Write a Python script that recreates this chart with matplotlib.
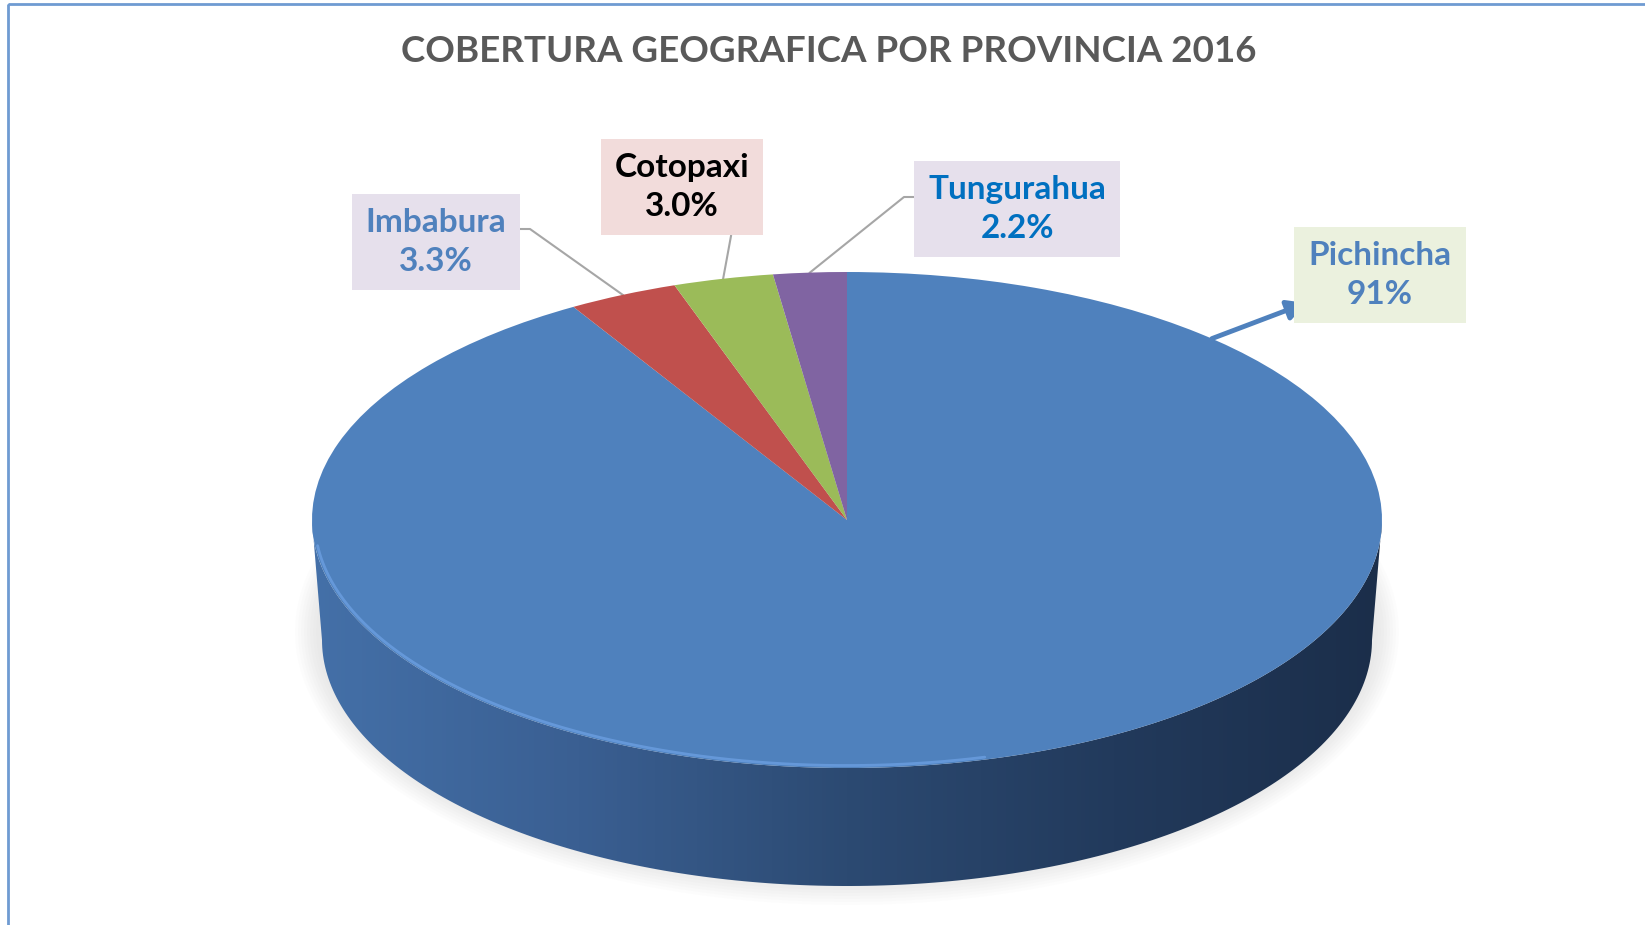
import numpy as np
import matplotlib
matplotlib.use("Agg")
import matplotlib.pyplot as plt
from matplotlib.colors import LinearSegmentedColormap
from matplotlib.patches import Polygon, Rectangle

# data
provincias = ["Pichincha", "Imbabura", "Cotopaxi", "Tungurahua"]
porcentajes = [91.0, 3.3, 3.0, 2.2]
etiquetas = ["91%", "3.3%", "3.0%", "2.2%"]
colores = ["#4f81bd", "#c0504d", "#9bbb59", "#8064a2"]
titulo = "COBERTURA GEOGRAFICA POR PROVINCIA 2016"

plt.rcParams['font.family'] = ['Lato', 'DejaVu Sans']

W, H = 1645, 925
fig = plt.figure(figsize=(W / 100, H / 100), dpi=100)

# background axes in pixel units
bg = fig.add_axes([0, 0, 1, 1])
bg.set_xlim(0, W)
bg.set_ylim(H, 0)
bg.axis("off")

# chart border
bg.add_patch(Rectangle((8, 4), W + 20, H + 20, fill=False, ec="#6f9bd2", lw=2))

# geometry of the "3d" disc (pixels)
cx, cy = 847, 520
a, b = 535, 248
depth = 120
a2, b2 = 525, 246

# soft shadow
for k in range(8):
    t = np.linspace(0, 2 * np.pi, 300)
    s = 6 + k * 3
    bg.fill(cx + (a2 + s) * np.cos(t), cy + depth - 8 + (b2 + s) * np.sin(t),
            color="#9a9a9a", alpha=0.025, lw=0, zorder=1)

# side wall with horizontal gradient
t1 = np.linspace(np.pi, 0, 200)
top_x = cx + a * np.cos(t1)
top_y = cy + b * np.sin(t1)
t2 = np.linspace(0, np.pi, 200)
bot_x = cx + a2 * np.cos(t2)
bot_y = cy + depth + b2 * np.sin(t2)
side = Polygon(np.column_stack([np.r_[top_x, bot_x], np.r_[top_y, bot_y]]),
               closed=True, fc="none", ec="none")
bg.add_patch(side)
cmap = LinearSegmentedColormap.from_list(
    "side", ["#4470a8", "#3a5f92", "#2c4a72", "#223a5c", "#1b2e4a"])
grad = np.linspace(0, 1, 256).reshape(1, -1)
im = bg.imshow(grad, cmap=cmap, aspect="auto",
               extent=(cx - a, cx + a, cy + depth + b2 + 2, cy - 5), zorder=2)
im.set_clip_path(side)
bg.set_xlim(0, W)
bg.set_ylim(H, 0)

# pie top face
ax = fig.add_axes([(cx - a) / W, (H - (cy + b)) / H, 2 * a / W, 2 * b / H])
ax.patch.set_alpha(0)
wedges, _ = ax.pie(porcentajes, colors=colores, startangle=90,
                   counterclock=False, radius=1,
                   wedgeprops=dict(linewidth=0))
ax.set_aspect("auto")
ax.set_xlim(-1, 1)
ax.set_ylim(-1, 1)
ax.axis("off")

# front rim highlight
tr = np.linspace(np.radians(186), np.radians(285), 200)
ax.plot(np.cos(tr) * 0.995, np.sin(tr) * 0.99, color="#6fa3e6", lw=2,
        alpha=0.7, solid_capstyle="round")

bg.text(829, 52, titulo, ha="center", va="center", fontsize=26.5,
        fontweight="bold", color="#595959")

# label boxes (pixel centres) and styles
lab_pos = [(1380, 275), (436, 242), (682, 187), (1017, 209)]
lab_bg = ["#ebf1de", "#e6e0ec", "#f2dcdb", "#e6e0ec"]
lab_fg = ["#4f81bd", "#4f81bd", "#000000", "#0070c0"]
# leader line start points (pixels), None for the arrow
lead_start = [None, [(518, 229), (530, 229)], [(731, 236)],
              [(918, 197), (904, 197)]]

total = sum(porcentajes)
ang = 90.0
mids = []
for v in porcentajes:
    span = v / total * 360
    mids.append(ang - span / 2)
    ang -= span
mids[0] = 47  # arrow anchor on the big slice

to_bg = ax.transData + bg.transData.inverted()

for i, (name, lab) in enumerate(zip(provincias, etiquetas)):
    th = np.radians(mids[i])
    ex, ey = to_bg.transform((np.cos(th), np.sin(th)))
    px, py = lab_pos[i]
    bg.text(px, py, f"{name}\n{lab}", ha="center", va="center",
            fontsize=24, fontweight="bold", color=lab_fg[i],
            linespacing=1.45, zorder=10,
            bbox=dict(boxstyle="square,pad=0.42", fc=lab_bg[i], ec="none"))
    if lead_start[i] is None:
        bg.annotate("", xy=(1306, 303), xytext=(ex, ey),
                    arrowprops=dict(arrowstyle="-|>,head_length=1.1,head_width=0.6",
                                    color="#4f81bd", lw=3.5,
                                    shrinkA=0, shrinkB=0), zorder=9)
    else:
        pts = lead_start[i] + [(ex, ey)]
        bg.plot([p[0] for p in pts], [p[1] for p in pts], color="#a6a6a6",
                lw=1.5, zorder=9)

fig.savefig("out.png", dpi=100)
